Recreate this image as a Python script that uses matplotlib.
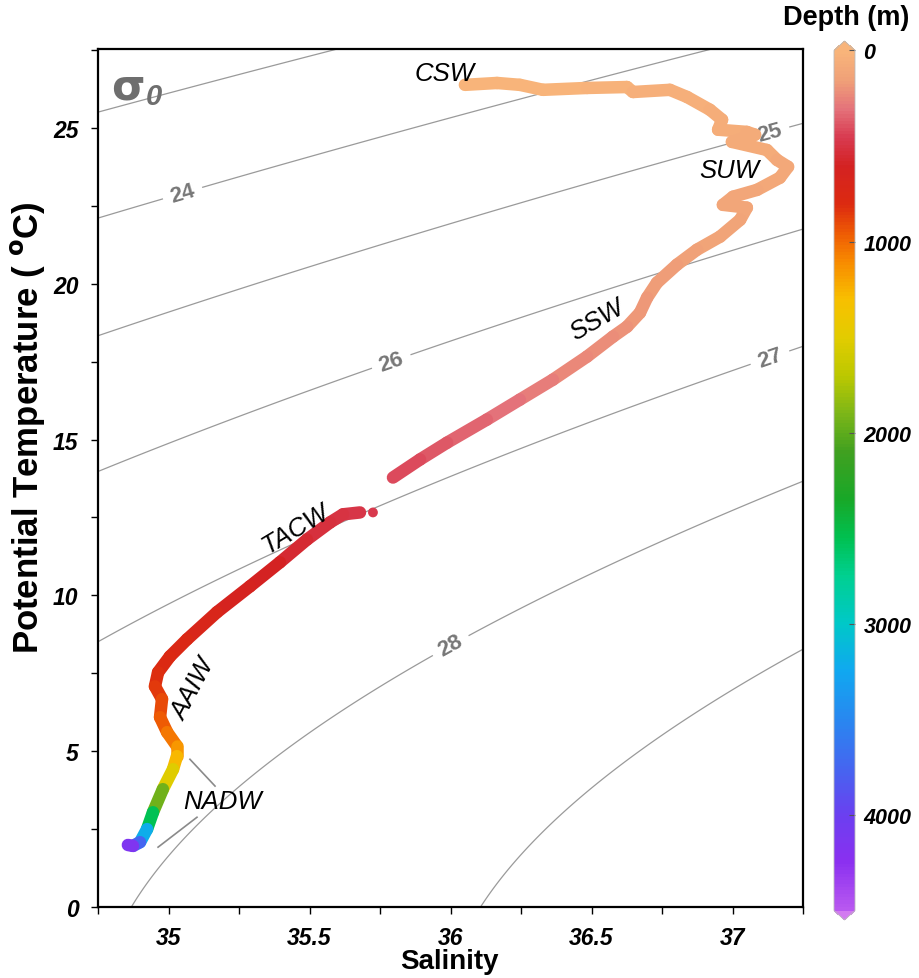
import numpy as np
import matplotlib
matplotlib.use('Agg')
import matplotlib.pyplot as plt
from matplotlib.collections import LineCollection
from matplotlib.colors import LinearSegmentedColormap, Normalize
from matplotlib.ticker import MultipleLocator, FuncFormatter

plt.rcParams['font.family'] = ['Liberation Sans', 'DejaVu Sans']

# ---- profile: salinity, potential temperature, depth (m)
upper_sal = [36.051, 36.165, 36.246, 36.328, 36.484, 36.626, 36.647, 36.778, 36.839,
             36.920, 36.963, 36.949, 37.051, 37.080, 36.998, 37.122, 37.158, 37.197,
             37.168, 37.087, 37.002, 36.966, 37.051, 37.027, 36.956, 36.874, 36.803,
             36.732, 36.697, 36.672, 36.626, 36.576, 36.484, 36.363, 36.246, 36.129,
             35.988, 35.892, 35.796]
upper_temp = [26.38, 26.44, 26.38, 26.22, 26.28, 26.31, 26.15, 26.22, 25.99,
              25.58, 25.26, 24.94, 24.87, 24.78, 24.55, 24.29, 23.97, 23.75,
              23.40, 23.01, 22.79, 22.53, 22.44, 22.05, 21.51, 21.09, 20.61,
              20.03, 19.55, 19.07, 18.62, 18.30, 17.66, 16.92, 16.28, 15.64,
              14.90, 14.36, 13.78]
upper_depth = [0, 5, 10, 15, 20, 30, 35, 40, 45,
               55, 60, 65, 70, 75, 80, 85, 90, 95,
               100, 105, 110, 115, 120, 125, 135, 145, 155,
               165, 175, 185, 200, 210, 230, 260, 290, 320,
               360, 390, 420]

lower_sal = [35.679, 35.619, 35.573, 35.491, 35.395, 35.289, 35.172, 35.066, 35.005,
             34.963, 34.952, 34.977, 34.970, 34.995, 35.030, 35.030, 35.016, 34.980,
             34.945, 34.924, 34.899, 34.874, 34.856]
lower_temp = [12.66, 12.60, 12.34, 11.79, 11.06, 10.29, 9.46, 8.59, 8.04,
              7.53, 7.08, 6.67, 6.09, 5.61, 5.16, 4.84, 4.42, 3.78,
              3.04, 2.50, 2.08, 1.96, 1.99]
lower_depth = [480, 490, 510, 540, 580, 620, 670, 720, 760,
               800, 840, 880, 930, 1000, 1100, 1200, 1350, 1700,
               2200, 2900, 3500, 4000, 4300]

dot_sal = [35.725]
dot_temp = [12.66]
dot_depth = [470]

# water mass labels: text, salinity, temperature, rotation
mass_labels = ['CSW', 'SUW', 'SSW', 'TACW', 'AAIW', 'NADW']
mass_sal = [35.98, 36.99, 36.52, 35.45, 35.09, 35.19]
mass_temp = [26.75, 23.65, 18.85, 12.15, 7.0, 3.4]
mass_rot = [0, 0, 30, 31, 62, 0]

nadw_leaders = [([35.076, 35.165], [4.74, 3.88]), ([35.101, 34.963], [2.88, 1.92])]

plain_levels = [23, 29]
label_levels = [24, 25, 26, 27, 28]
label_pos = [(35.05, 22.9), (37.13, 24.9), (35.79, 17.5), (37.13, 17.7), (36.0, 8.4)]

depth_ticks = [0, 1000, 2000, 3000, 4000]


def sigma0(S, T):
    # EOS-80 density at surface pressure
    rw = (999.842594 + 6.793952e-2 * T - 9.095290e-3 * T**2 + 1.001685e-4 * T**3
          - 1.120083e-6 * T**4 + 6.536332e-9 * T**5)
    A = 0.824493 - 4.0899e-3 * T + 7.6438e-5 * T**2 - 8.2467e-7 * T**3 + 5.3875e-9 * T**4
    B = -5.72466e-3 + 1.0227e-4 * T - 1.6546e-6 * T**2
    return rw + A * S + B * S**1.5 + 4.8314e-4 * S**2 - 1000.0


cmap = LinearSegmentedColormap.from_list('depth', [
    (0.0, '#f8b47a'), (150 / 4500, '#f0a078'), (300 / 4500, '#e4727a'),
    (450 / 4500, '#d83a50'), (600 / 4500, '#d42222'), (800 / 4500, '#dc2a10'),
    (950 / 4500, '#ee5a04'), (1100 / 4500, '#f88a00'), (1300 / 4500, '#f8c000'),
    (1500 / 4500, '#e2cc00'), (1700 / 4500, '#bcc800'), (1900 / 4500, '#7cb618'),
    (2100 / 4500, '#40a020'), (2350 / 4500, '#18a828'), (2550 / 4500, '#00c050'),
    (2750 / 4500, '#00d090'), (3000 / 4500, '#00c8c8'), (3250 / 4500, '#10a8f0'),
    (3500 / 4500, '#2888f0'), (3800 / 4500, '#4a60f0'), (4000 / 4500, '#6a40f0'),
    (4250 / 4500, '#8a30f0'), (1.0, '#b858f0')])
cmap.set_under('#f8b47a')
cmap.set_over('#d27af0')
norm = Normalize(vmin=0, vmax=4500)

fig = plt.figure(figsize=(9.19, 9.79), dpi=100)
ax = fig.add_axes([98 / 919, 1 - 908 / 979, 705 / 919, 858 / 979])

# density contours
sg, tg = np.meshgrid(np.linspace(34.75, 37.25, 300), np.linspace(0, 27.6, 300))
sig = sigma0(sg, tg)
ax.contour(sg, tg, sig, levels=plain_levels, colors='#9a9a9a', linewidths=0.9, zorder=1)
cs = ax.contour(sg, tg, sig, levels=label_levels, colors='#9a9a9a', linewidths=0.9, zorder=1)
cl = ax.clabel(cs, manual=label_pos, fmt='%d', fontsize=16,
               inline=True, inline_spacing=8, colors='#777777')
for t in cl:
    t.set_fontweight('bold')


def segments(s, t):
    pts = np.column_stack([s, t])
    return np.stack([pts[:-1], pts[1:]], axis=1)


for s, t, d in [(upper_sal, upper_temp, upper_depth), (lower_sal, lower_temp, lower_depth)]:
    d = np.asarray(d, dtype=float)
    lc = LineCollection(segments(s, t), cmap=cmap, norm=norm, linewidths=9,
                        capstyle='round', joinstyle='round', zorder=3)
    lc.set_array((d[:-1] + d[1:]) / 2)
    ax.add_collection(lc)

sc = ax.scatter(dot_sal, dot_temp, c=dot_depth, cmap=cmap, norm=norm, s=50,
                edgecolors='none', zorder=3)

for lbl, s, t, r in zip(mass_labels, mass_sal, mass_temp, mass_rot):
    ax.text(s, t, lbl, fontsize=18.5, style='italic', rotation=r,
            ha='center', va='center', zorder=4)
for xs, ys in nadw_leaders:
    ax.plot(xs, ys, color='#8a8a8a', lw=1.2, zorder=2)

ax.text(0.019, 0.942, 'σ', transform=ax.transAxes, fontsize=31, fontweight='bold',
        color='#6e6e6e', ha='left', va='baseline', family='DejaVu Sans')
ax.text(0.068, 0.936, '0', transform=ax.transAxes, fontsize=21, fontweight='bold',
        style='italic', color='#6e6e6e', ha='left', va='baseline')

ax.set_xlim(34.75, 37.25)
ax.set_ylim(0, 27.53)
ax.xaxis.set_major_locator(MultipleLocator(0.5))
ax.xaxis.set_minor_locator(MultipleLocator(0.25))
ax.yaxis.set_major_locator(MultipleLocator(5))
ax.yaxis.set_minor_locator(MultipleLocator(2.5))
fmt = FuncFormatter(lambda v, p: '%g' % v)
ax.xaxis.set_major_formatter(fmt)
ax.yaxis.set_major_formatter(fmt)
ax.tick_params(which='both', direction='out', length=5, width=1, pad=9)
for lab in ax.get_xticklabels() + ax.get_yticklabels():
    lab.set_fontsize(16.5)
    lab.set_fontweight('bold')
    lab.set_fontstyle('italic')
for sp in ax.spines.values():
    sp.set_linewidth(1.6)

fig.text(449 / 919, 1 - 962 / 979, 'Salinity', fontsize=20, fontweight='bold',
         ha='center', va='center')
fig.text(28 / 919, 1 - 428 / 979, r'Potential Temperature ( $^{\mathbf{o}}$C)',
         fontsize=25, fontweight='bold', rotation=90, ha='center', va='center')

# colorbar
cax = fig.add_axes([834 / 919, 1 - 921 / 979, 21 / 919, 879 / 979])
cb = fig.colorbar(sc, cax=cax, extend='both', extendfrac=0.011)
cax.invert_yaxis()
cb.set_ticks(depth_ticks)
cb.ax.tick_params(direction='in', length=4, width=0.8, pad=6, color='#555555')
for lab in cb.ax.get_yticklabels():
    lab.set_fontsize(15.5)
    lab.set_fontweight('bold')
    lab.set_fontstyle('italic')
cb.outline.set_edgecolor('#bbbbbb')
cb.outline.set_linewidth(0.6)
fig.text(846 / 919, 1 - 18 / 979, 'Depth (m)', fontsize=19.5, fontweight='bold',
         ha='center', va='center')

fig.savefig('out.png', dpi=100)
